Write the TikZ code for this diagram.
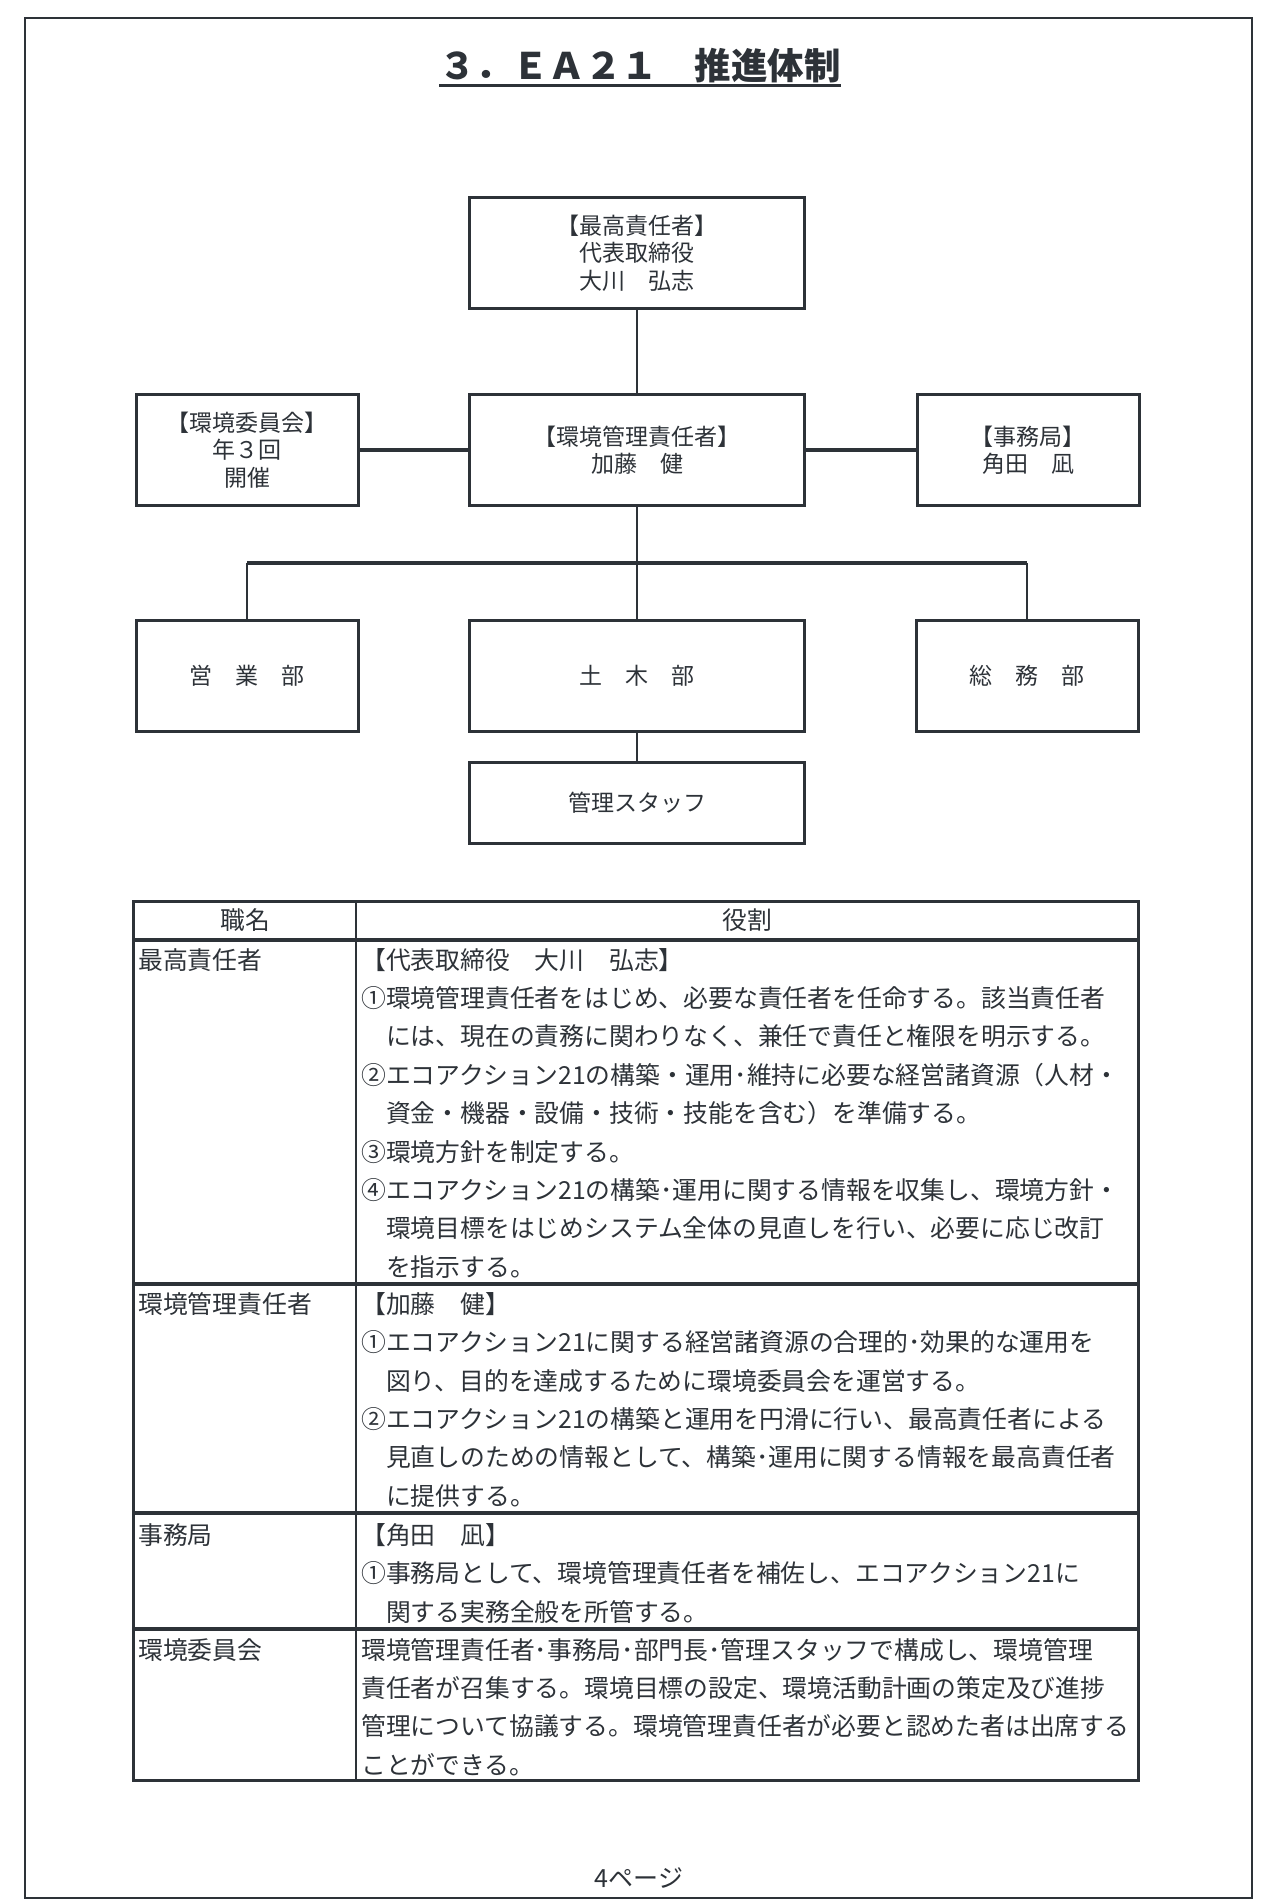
\documentclass[tikz,border=0pt]{standalone}
\usepackage{fontspec}
\setmainfont{Noto Sans CJK JP}
\usetikzlibrary{positioning}
\definecolor{ink}{RGB}{45,50,56}

\begin{document}
\begin{tikzpicture}[x=1pt,y=-1pt,on grid,
		orgbox/.style={draw=ink,line width=3pt,minimum width=335pt,minimum height=111pt,
			inner sep=0pt,align=center,text=ink,font=\fontsize{23}{27.5}\selectfont},
		sidebox/.style={orgbox,minimum width=222pt},
		link/.style={draw=ink,line width=2.5pt},
		hlink/.style={draw=ink,line width=3.5pt},
		rule/.style={draw=ink,line width=4pt},
		rowname/.style={anchor=west,inner sep=0pt,text=ink,font=\fontsize{24.8}{30}\selectfont},
		cell/.style={anchor=north west,inner sep=0pt,align=left,text=ink,font=\fontsize{24.8}{38.4}\selectfont}]
		\useasboundingbox (0,0) rectangle (1280,1904);
		\draw[ink,line width=2.5pt] (25,18) rectangle (1252,1898);
		% title
		\node[inner sep=0pt,text=ink,font=\fontsize{36.5}{36.5}\selectfont\bfseries] (title) at (640,66) {３．ＥＡ２１　推進体制};
		\draw[ink,line width=2.5pt] ([yshift=-2pt]title.south west) -- ([yshift=-2pt]title.south east);
		% organisation chart
		\node[orgbox] (chief) at (637,253) {【最高責任者】\\代表取締役\\大川　弘志};
		\node[orgbox] (envmgr) [below=197pt of chief] {【環境管理責任者】\\加藤　健};
		\node[sidebox] (committee) [left=390pt of envmgr] {【環境委員会】\\年３回\\開催};
		\node[sidebox] (office) [right=391pt of envmgr] {【事務局】\\角田　凪};
		\node[orgbox] (civil) [below=226pt of envmgr] {土　木　部};
		\node[sidebox] (sales) [left=390pt of civil] {営　業　部};
		\node[sidebox] (general) [right=390pt of civil] {総　務　部};
		\node[orgbox,minimum height=81pt] (staff) [below=127pt of civil] {管理スタッフ};
		\coordinate (bus) at (637,563);
		\draw[link] (chief) -- (envmgr);
		\draw[hlink] (committee) -- (envmgr);
		\draw[hlink] (envmgr) -- (office);
		\draw[link] (envmgr) -- (civil);
		\draw[hlink] (sales.north |- bus) -- (general.north |- bus);
		\draw[link] (sales.north |- bus) -- (sales.north);
		\draw[link] (general.north |- bus) -- (general.north);
		\draw[link] (civil) -- (staff);
		% table of roles
		\draw[ink,line width=3pt] (133,901) rectangle (1138,1780);
		\foreach \y in {940,1284,1513,1629}
			\draw[rule] (133,\y) -- (1138,\y);
		\draw[link] (356,901) -- (356,1780);
		\node[rowname,anchor=center] (hdname) at (245,920) {職名};
		\node[rowname,anchor=center] (hdrole) at (747,920) {役割};
		\node[rowname] (nchief) at (138,960) {最高責任者};
		\node[rowname] (nenvmgr) at (138,1304) {環境管理責任者};
		\node[rowname] (noffice) at (138,1535) {事務局};
		\node[rowname] (ncommittee) at (138,1650) {環境委員会};
		\node[cell] (rchief) at (361,948) {【代表取締役　大川　弘志】\\
			①環境管理責任者をはじめ、必要な責任者を任命する。該当責任者\\
			　には、現在の責務に関わりなく、兼任で責任と権限を明示する。\\
			②エコアクション21の構築・運用･維持に必要な経営諸資源（人材・\\
			　資金・機器・設備・技術・技能を含む）を準備する。\\
			③環境方針を制定する。\\
			④エコアクション21の構築･運用に関する情報を収集し、環境方針・\\
			　環境目標をはじめシステム全体の見直しを行い、必要に応じ改訂\\
			　を指示する。};
		\node[cell] (renvmgr) at (361,1292) {【加藤　健】\\
			①エコアクション21に関する経営諸資源の合理的･効果的な運用を\\
			　図り、目的を達成するために環境委員会を運営する。\\
			②エコアクション21の構築と運用を円滑に行い、最高責任者による\\
			　見直しのための情報として、構築･運用に関する情報を最高責任者\\
			　に提供する。};
		\node[cell] (roffice) at (361,1523) {【角田　凪】\\
			①事務局として、環境管理責任者を補佐し、エコアクション21に\\
			　関する実務全般を所管する。};
		\node[cell] (rcommittee) at (361,1638) {環境管理責任者･事務局･部門長･管理スタッフで構成し、環境管理\\
			責任者が召集する。環境目標の設定、環境活動計画の策定及び進捗\\
			管理について協議する。環境管理責任者が必要と認めた者は出席する\\
			ことができる。};
		\node[inner sep=0pt,text=ink,font=\fontsize{25}{25}\selectfont] (pageno) at (639,1878) {4ページ};
	\end{tikzpicture}
\end{document}
